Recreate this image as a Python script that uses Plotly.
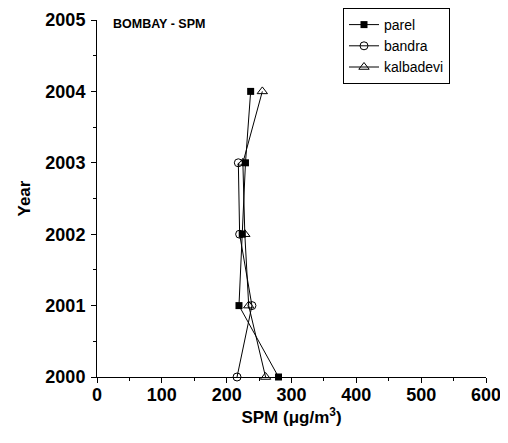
import plotly.graph_objects as go

years_parel = [2000, 2001, 2002, 2003, 2004]
parel = [280, 219, 224, 229, 237]
years_bandra = [2000, 2001, 2002, 2003]
bandra = [216, 239, 220, 218]
years_kalbadevi = [2000, 2001, 2002, 2003, 2004]
kalbadevi = [260, 234, 228, 225, 255]

fig = go.Figure()
fig.add_trace(go.Scatter(x=parel, y=years_parel, name="parel", mode="lines+markers",
                         line=dict(color="black", width=1),
                         marker=dict(symbol="square", size=7, color="black")))
fig.add_trace(go.Scatter(x=bandra, y=years_bandra, name="bandra", mode="lines+markers",
                         line=dict(color="black", width=1),
                         marker=dict(symbol="circle-open", size=8, color="black", line=dict(width=1))))
fig.add_trace(go.Scatter(x=kalbadevi, y=years_kalbadevi, name="kalbadevi", mode="lines+markers",
                         line=dict(color="black", width=1),
                         marker=dict(symbol="triangle-up-open", size=9, color="black", line=dict(width=1))))

font_b = "Liberation Sans"
W, H = 500, 435
L, R, T, B = 89, 22, 12, 66
fig.update_layout(
    width=W, height=H,
    margin=dict(l=L, r=R, t=T, b=B, autoexpand=False),
    plot_bgcolor="white", paper_bgcolor="white",
    font=dict(family=font_b, color="black"),
    showlegend=True,
    legend=dict(x=(335 - L) / (W - L - R), y=1.0, xref="paper", yref="container",
                xanchor="left", yanchor="top",
                bordercolor="black", borderwidth=1, bgcolor="white",
                font=dict(size=14, family=font_b), itemwidth=30),
    xaxis=dict(range=[0, 600], tickvals=[0, 100, 200, 300, 400, 500, 600],
               automargin=False,
               showline=True, linecolor="black", linewidth=1,
               ticks="outside", ticklen=5, tickcolor="black",
               minor=dict(dtick=50, ticks="outside", ticklen=3, tickcolor="black"),
               showgrid=False, zeroline=False, ticklabelstandoff=-4,
               tickfont=dict(size=18, family=font_b, weight="bold"),
               title=dict(text="<b>SPM (μg/m<sup>3</sup>)</b>", font=dict(size=17), standoff=4)),
    yaxis=dict(range=[2000, 2005], tickvals=[2000, 2001, 2002, 2003, 2004, 2005],
               automargin=False,
               showline=True, linecolor="black", linewidth=1,
               ticks="outside", ticklen=5, tickcolor="black",
               minor=dict(dtick=0.5, ticks="outside", ticklen=3, tickcolor="black"),
               showgrid=False, zeroline=False, ticklabelstandoff=2,
               tickfont=dict(size=18, family=font_b, weight="bold"),
               title=dict(text="<b>Year</b>", font=dict(size=17), standoff=10)),
    annotations=[dict(text="<b>BOMBAY - SPM</b>", x=(102.7 - L) / (W - L - R), y=1.014,
                      xref="paper", yref="paper",
                      xanchor="left", yanchor="top", showarrow=False,
                      font=dict(size=12.5, family=font_b))],
)
for tr in fig.data:
    tr.cliponaxis = False
fig.write_html("out.html")
